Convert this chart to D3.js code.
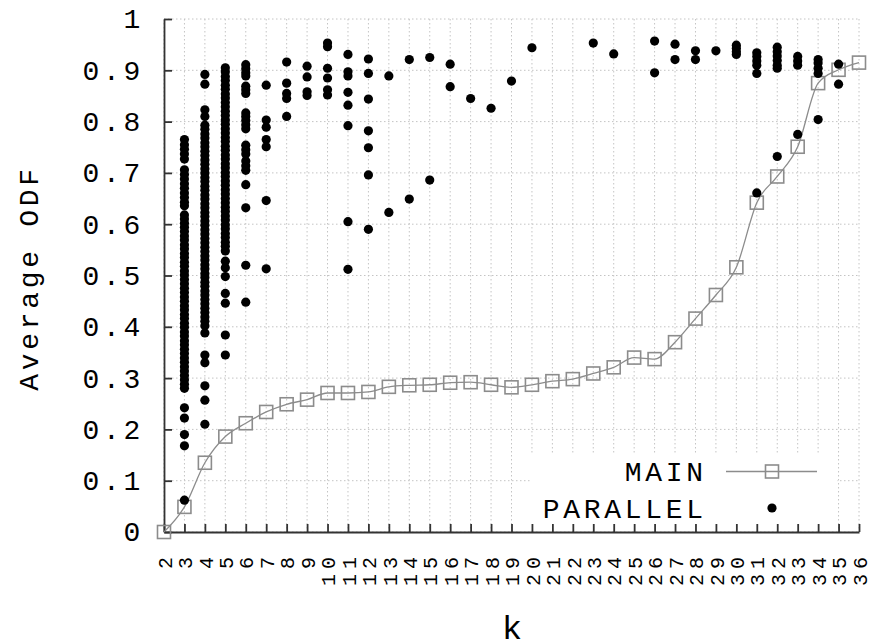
<!DOCTYPE html>
<meta charset="utf-8">
<head>
    <!-- Load d3.js -->
    <script src="https://d3js.org/d3.v7.min.js"></script>
    <style>
        body { margin: 0; background: #fff; }
        text { font-family: 'Liberation Mono', 'DejaVu Sans Mono', monospace; fill: #000; }
    </style>
</head>
<body>
    <div id="chart"></div>
    <script>

    // k values on the x axis
    var kValues = [2, 3, 4, 5, 6, 7, 8, 9, 10, 11, 12, 13, 14, 15, 16, 17, 18, 19,
                   20, 21, 22, 23, 24, 25, 26, 27, 28, 29, 30, 31, 32, 33, 34, 35, 36]

    // MAIN series, one value per k
    var mainOdf = [0.000, 0.049, 0.135, 0.186, 0.212, 0.234, 0.249, 0.258, 0.271, 0.271,
                   0.273, 0.283, 0.286, 0.287, 0.291, 0.292, 0.287, 0.282, 0.287, 0.294,
                   0.298, 0.309, 0.321, 0.340, 0.337, 0.370, 0.416, 0.462, 0.516, 0.642,
                   0.693, 0.751, 0.875, 0.901, 0.915]

    // y ticks
    var yTicks = [0, 0.1, 0.2, 0.3, 0.4, 0.5, 0.6, 0.7, 0.8, 0.9, 1]

    // PARALLEL runs: k of each column and the values read in that column
    var parallelK = [3, 4, 5, 6, 7, 8, 9, 10, 11, 12, 13, 14, 15, 16, 17, 18, 19, 20,
                     23, 24, 26, 27, 28, 29, 30, 31, 32, 33, 34, 35]
    var parallelOdf = [
        [0.765, 0.755, 0.746, 0.737, 0.727, 0.706, 0.697, 0.688, 0.679, 0.670, 0.661, 0.652,
         0.643, 0.636, 0.618, 0.610, 0.602, 0.594, 0.586, 0.577, 0.569, 0.560, 0.552, 0.543,
         0.535, 0.526, 0.518, 0.509, 0.501, 0.492, 0.484, 0.475, 0.467, 0.458, 0.450, 0.441,
         0.433, 0.424, 0.416, 0.407, 0.399, 0.390, 0.382, 0.373, 0.365, 0.356, 0.348, 0.339,
         0.331, 0.322, 0.314, 0.305, 0.297, 0.288, 0.280, 0.242, 0.222, 0.190, 0.168, 0.062],
        [0.892, 0.873, 0.823, 0.810, 0.793, 0.785, 0.776, 0.768, 0.759, 0.751, 0.742, 0.734,
         0.725, 0.717, 0.708, 0.700, 0.691, 0.683, 0.674, 0.666, 0.657, 0.649, 0.640, 0.632,
         0.623, 0.615, 0.606, 0.598, 0.589, 0.581, 0.572, 0.564, 0.555, 0.547, 0.538, 0.530,
         0.521, 0.513, 0.504, 0.496, 0.487, 0.479, 0.470, 0.462, 0.453, 0.445, 0.436, 0.428,
         0.419, 0.411, 0.402, 0.388, 0.345, 0.330, 0.285, 0.257, 0.210],
        [0.905, 0.897, 0.888, 0.880, 0.871, 0.863, 0.854, 0.846, 0.837, 0.829, 0.820, 0.812,
         0.803, 0.795, 0.786, 0.778, 0.769, 0.761, 0.752, 0.744, 0.735, 0.727, 0.718, 0.710,
         0.701, 0.693, 0.684, 0.676, 0.667, 0.659, 0.650, 0.642, 0.633, 0.625, 0.616, 0.608,
         0.599, 0.591, 0.582, 0.574, 0.565, 0.557, 0.548, 0.528, 0.515, 0.498, 0.465, 0.446,
         0.384, 0.345],
        [0.911, 0.903, 0.895, 0.889, 0.869, 0.862, 0.855, 0.817, 0.810, 0.802, 0.794, 0.786,
         0.754, 0.745, 0.737, 0.723, 0.714, 0.705, 0.677, 0.632, 0.520, 0.448],
        [0.871, 0.803, 0.789, 0.765, 0.751, 0.646, 0.513],
        [0.916, 0.875, 0.855, 0.845, 0.810],
        [0.908, 0.887, 0.858, 0.851],
        [0.953, 0.946, 0.904, 0.885, 0.862, 0.852],
        [0.931, 0.897, 0.889, 0.857, 0.832, 0.792, 0.605, 0.512],
        [0.922, 0.894, 0.844, 0.782, 0.749, 0.696, 0.590],
        [0.889, 0.623],
        [0.921, 0.649],
        [0.925, 0.686],
        [0.912, 0.868],
        [0.845],
        [0.826],
        [0.879],
        [0.944],
        [0.953],
        [0.932],
        [0.957, 0.895],
        [0.951, 0.921],
        [0.938, 0.921],
        [0.938],
        [0.949, 0.943, 0.936, 0.931],
        [0.934, 0.927, 0.918, 0.910, 0.894, 0.661],
        [0.945, 0.936, 0.928, 0.919, 0.910, 0.904, 0.732],
        [0.927, 0.918, 0.910, 0.775],
        [0.921, 0.914, 0.904, 0.894, 0.804],
        [0.912, 0.873]
    ]

    var width = 869,
        height = 644,
        plotLeft = 164, plotRight = 859, plotTop = 19, plotBottom = 532

    var svg = d3.select("#chart")
        .append("svg")
        .attr("width", width)
        .attr("height", height)

    var x = d3.scaleLinear().domain([2, 36]).range([plotLeft, plotRight])
    var y = d3.scaleLinear().domain([0, 1]).range([plotBottom, plotTop])

    // dotted grid
    var grid = svg.append("g")
        .attr("stroke", "#c4c4c4")
        .attr("stroke-width", 1)
        .attr("stroke-dasharray", "1.5,2.5")
    grid.selectAll("vline").data(kValues).enter().append("line")
        .attr("x1", d => x(d)).attr("x2", d => x(d))
        .attr("y1", plotTop).attr("y2", plotBottom)
    grid.selectAll("hline").data(yTicks).enter().append("line")
        .attr("x1", plotLeft).attr("x2", plotRight)
        .attr("y1", d => y(d)).attr("y2", d => y(d))

    // legend background hides the grid behind it
    svg.append("rect")
        .attr("x", 531).attr("y", 455)
        .attr("width", 306).attr("height", plotBottom - 455 - 1)
        .attr("fill", "#fff")

    // axes: left and bottom only, ticks pointing inward
    var yAxis = svg.append("g")
        .attr("transform", "translate(" + plotLeft + ",0)")
        .call(d3.axisLeft(y).tickValues(yTicks).tickFormat(d3.format("~g"))
              .tickSizeInner(-8).tickSizeOuter(0).tickPadding(20))
    yAxis.selectAll("text")
        .style("font-size", "28px")
        .style("letter-spacing", "3.7px")
        .attr("fill", "#000")

    var xAxis = svg.append("g")
        .attr("transform", "translate(0," + plotBottom + ")")
        .call(d3.axisBottom(x).tickValues(kValues).tickFormat(d3.format("d"))
              .tickSizeInner(-8).tickSizeOuter(0))
    xAxis.selectAll("text")
        .attr("transform", "rotate(-90)")
        .attr("x", -25 + 5)
        .attr("y", 0)
        .attr("dy", "0.36em")
        .style("text-anchor", "end")
        .style("font-size", "20px")
        .style("letter-spacing", "5px")
        .attr("fill", "#000")

    svg.selectAll(".domain, .tick line")
        .attr("stroke", "#333")
        .attr("stroke-width", 1.8)

    // MAIN line and squares
    var mainData = kValues.map((k, i) => [k, mainOdf[i]])
    var line = d3.line()
        .x(d => x(d[0]))
        .y(d => y(d[1]))
        .curve(d3.curveMonotoneX)
    svg.append("path")
        .datum(mainData)
        .attr("d", line)
        .attr("fill", "none")
        .attr("stroke", "#8c8c8c")
        .attr("stroke-width", 1.3)
    var sq = 13
    svg.selectAll("mainSquares").data(mainData).enter().append("rect")
        .attr("x", d => x(d[0]) - sq / 2)
        .attr("y", d => y(d[1]) - sq / 2)
        .attr("width", sq).attr("height", sq)
        .attr("fill", "none")
        .attr("stroke", "#8c8c8c")
        .attr("stroke-width", 1.6)

    // PARALLEL dots
    var parallelData = []
    parallelK.forEach(function(k, i) {
        parallelOdf[i].forEach(function(v) { parallelData.push([k, v]) })
    })
    svg.selectAll("parDots").data(parallelData).enter().append("circle")
        .attr("cx", d => x(d[0]))
        .attr("cy", d => y(d[1]))
        .attr("r", 4.6)
        .attr("fill", "#000")

    // legend
    svg.append("text").attr("x", 703 + 3.7).attr("y", 481)
        .attr("text-anchor", "end")
        .style("font-size", "28px").style("letter-spacing", "3.7px")
        .text("MAIN")
    svg.append("line").attr("x1", 726).attr("x2", 817).attr("y1", 471.5).attr("y2", 471.5)
        .attr("stroke", "#8c8c8c").attr("stroke-width", 1.3)
    svg.append("rect").attr("x", 772 - sq / 2).attr("y", 471.5 - sq / 2)
        .attr("width", sq).attr("height", sq)
        .attr("fill", "none").attr("stroke", "#8c8c8c").attr("stroke-width", 1.6)
    svg.append("text").attr("x", 703 + 3.7).attr("y", 518)
        .attr("text-anchor", "end")
        .style("font-size", "28px").style("letter-spacing", "3.7px")
        .text("PARALLEL")
    svg.append("circle").attr("cx", 772).attr("cy", 508).attr("r", 4.6).attr("fill", "#000")

    // axis titles
    svg.append("text")
        .attr("transform", "translate(38,278) rotate(-90)")
        .attr("text-anchor", "middle")
        .style("font-size", "28px").style("letter-spacing", "3.7px")
        .text("Average ODF")
    svg.append("text")
        .attr("x", 512).attr("y", 639)
        .attr("text-anchor", "middle")
        .style("font-size", "34px")
        .text("k")
    </script>
</body>
